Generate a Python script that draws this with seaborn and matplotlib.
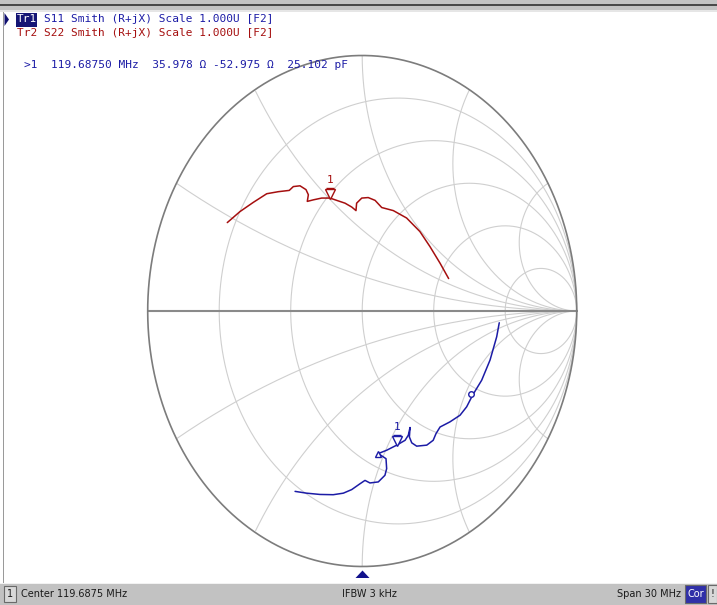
import numpy as np
import pandas as pd
import matplotlib
matplotlib.use("Agg")
import matplotlib.pyplot as plt
import matplotlib.transforms as mtransforms
from matplotlib.patches import Rectangle, Polygon
import seaborn as sns

s11_re = [0.639, 0.627, 0.596, 0.557, 0.515, 0.487, 0.456, 0.409, 0.363, 0.344,
          0.331, 0.301, 0.254, 0.231, 0.220, 0.223, 0.215, 0.200, 0.161, 0.114,
          0.075, 0.111, 0.114, 0.106, 0.075, 0.036, 0.013, -0.010, -0.049, -0.088,
          -0.135, -0.197, -0.259, -0.313]
s11_im = [-0.046, -0.101, -0.192, -0.271, -0.329, -0.375, -0.408, -0.434, -0.454, -0.480,
          -0.506, -0.525, -0.529, -0.516, -0.493, -0.456, -0.486, -0.506, -0.525, -0.545,
          -0.558, -0.578, -0.617, -0.643, -0.669, -0.673, -0.663, -0.676, -0.699, -0.713,
          -0.719, -0.718, -0.713, -0.706]

# Tr2 S22 trace
s22_re = [-0.629, -0.570, -0.508, -0.445, -0.391, -0.340, -0.321, -0.290, -0.262, -0.251,
          -0.256, -0.228, -0.189, -0.150, -0.119, -0.080, -0.049, -0.029, -0.026, -0.002,
          0.028, 0.060, 0.091, 0.145, 0.207, 0.269, 0.316, 0.363, 0.403]
s22_im = [0.346, 0.389, 0.425, 0.459, 0.467, 0.472, 0.487, 0.490, 0.475, 0.455,
          0.429, 0.435, 0.442, 0.442, 0.433, 0.422, 0.407, 0.393, 0.422, 0.442,
          0.444, 0.433, 0.405, 0.393, 0.364, 0.311, 0.252, 0.187, 0.127]

# marker 1 positions (index into each trace)
s11_mkr = 18
s22_mkr = 13

# grid: resistance circles and reactance arcs as drawn by the analyzer
r_values = [0.2, 0.5, 1, 2, 5]
x_values = [0.268, 0.577, 1, 1.732, 3.732]

header1 = "S11 Smith (R+jX) Scale 1.000U [F2]"
header2 = "Tr2 S22 Smith (R+jX) Scale 1.000U [F2]"
readout = ">1  119.68750 MHz  35.978 \u03a9 -52.975 \u03a9  25.102 pF"
center_txt = "Center 119.6875 MHz"
ifbw_txt = "IFBW 3 kHz"
span_txt = "Span 30 MHz"

BLUE = "#1c1ca6"
RED = "#a50f0f"
GRID = "#cfcfcf"

W, H = 717, 605


def fx(x):
    return x / W


def fy(y):
    return 1 - y / H


sns.set_theme(style="white")
plt.rcParams["font.family"] = ["DejaVu Sans"]

fig = plt.figure(figsize=(W / 100, H / 100), dpi=100)
fig.patch.set_facecolor("white")

# chart area in pixels
left, right, top, bottom = 147.7, 576.7, 55.5, 566.5
ax = fig.add_axes([fx(left), fy(bottom), fx(right - left), (bottom - top) / H])
ax.set_xlim(-1, 1)
ax.set_ylim(-1, 1)
ax.set_axis_off()

t = np.linspace(0, 2 * np.pi, 1441)

# constant resistance circles
for r in r_values:
    c, rad = r / (1 + r), 1 / (1 + r)
    ax.plot(c + rad * np.cos(t), rad * np.sin(t), color=GRID, lw=0.8, clip_on=False, zorder=1)

# constant reactance arcs
for xv in x_values:
    for sgn in (1, -1):
        rad = 1 / xv
        gx = 1 + rad * np.cos(t)
        gy = sgn * rad + rad * np.sin(t)
        mask = gx ** 2 + gy ** 2 > 1.0005
        gx[mask] = np.nan
        gy[mask] = np.nan
        ax.plot(gx, gy, color=GRID, lw=0.8, clip_on=False, zorder=1)

ax.plot([-1, 1], [0, 0], color="#8a8a8a", lw=1.5, clip_on=False, zorder=2)
ax.plot(np.cos(t), np.sin(t), color="#7c7c7c", lw=1.2, clip_on=False, zorder=2)

df = pd.concat([
    pd.DataFrame({"re": s11_re, "im": s11_im, "trace": "S11"}),
    pd.DataFrame({"re": s22_re, "im": s22_im, "trace": "S22"}),
])
sns.lineplot(data=df, x="re", y="im", hue="trace", units="trace", palette={"S11": BLUE, "S22": RED},
             sort=False, estimator=None, legend=False, lw=1.1, ax=ax, zorder=3)

# marker symbols
for re_, im_, k, col in [(s11_re, s11_im, s11_mkr, BLUE), (s22_re, s22_im, s22_mkr, RED)]:
    mx, my = re_[k], im_[k]
    tri = mtransforms.offset_copy(ax.transData, fig=fig, x=0, y=4.5, units="dots")
    ax.plot([mx], [my], marker="v", ms=7, mfc="white", mec=col, mew=1.0, transform=tri, zorder=4)
    stem = mtransforms.offset_copy(ax.transData, fig=fig, x=0, y=10, units="dots")
    ax.plot([mx], [my], marker="_", ms=6, mec=col, mew=1.0, transform=stem, zorder=4)
    lab = mtransforms.offset_copy(ax.transData, fig=fig, x=0, y=13, units="dots")
    ax.text(mx, my, "1", color=col, fontsize=8, ha="center", va="bottom",
            family="DejaVu Sans Mono", transform=lab, zorder=4)

# small extra symbols on the S11 trace
sm = mtransforms.offset_copy(ax.transData, fig=fig, x=-2, y=1, units="dots")
ax.plot([s11_re[4]], [s11_im[4]], marker="o", ms=4, mfc="white", mec=BLUE, mew=1, transform=sm, zorder=4)
ax.plot([s11_re[20]], [s11_im[20]], marker="^", ms=4, mfc="white", mec=BLUE, mew=1, zorder=4)

# window frame
fig.add_artist(Rectangle((0, fy(12)), 1, 12 / H, transform=fig.transFigure, color="#c4c4c4", lw=0))
fig.add_artist(Rectangle((0, fy(6)), 1, 2 / H, transform=fig.transFigure, color="#4a4a4a", lw=0))
fig.add_artist(Rectangle((0, fy(12)), 1, 2 / H, transform=fig.transFigure, color="#e6e6e6", lw=0))
fig.add_artist(Rectangle((fx(3), fy(583)), 1.5 / W, 571 / H, transform=fig.transFigure, color="#9a9a9a", lw=0))

# header
fig.add_artist(Polygon([(fx(4.5), fy(13)), (fx(4.5), fy(26)), (fx(9), fy(19.5))], closed=True,
                       transform=fig.transFigure, color="#101070", lw=0))
fig.add_artist(Rectangle((fx(15.5), fy(26.5)), 21 / W, 14 / H, transform=fig.transFigure,
                         color="#151575", lw=0))
mono = dict(family="DejaVu Sans Mono", fontsize=8, va="center", ha="left")
fig.text(fx(17), fy(19.5), "Tr1", color="white", **mono)
fig.text(fx(44), fy(19.5), header1, color=BLUE, **mono)
fig.text(fx(17), fy(33.5), header2, color=RED, **mono)
fig.text(fx(24), fy(65), readout, color=BLUE, **mono)

# stimulus marker at bottom
fig.add_artist(Polygon([(fx(362.5), fy(570.5)), (fx(355.5), fy(578)), (fx(369.5), fy(578))],
                       closed=True, transform=fig.transFigure, color="#12128c", lw=0))

# status bar
fig.add_artist(Rectangle((0, 0), 1, (H - 583) / H, transform=fig.transFigure, color="#c2c2c2", lw=0))
fig.add_artist(Rectangle((0, fy(584)), 1, 1 / H, transform=fig.transFigure, color="#f2f2f2", lw=0))
fig.add_artist(Rectangle((fx(4), fy(602)), 12 / W, 16 / H, transform=fig.transFigure,
                         facecolor="#d8d8d8", edgecolor="#6a6a6a", lw=0.8))
sb = dict(family="DejaVu Sans", fontsize=7, va="center", color="#1a1a1a")
fig.text(fx(10), fy(594), "1", ha="center", **sb)
fig.text(fx(21), fy(594), center_txt, ha="left", **sb)
fig.text(fx(369), fy(594), ifbw_txt, ha="center", **sb)
fig.text(fx(681), fy(594), span_txt, ha="right", **sb)
fig.add_artist(Rectangle((fx(685), fy(603)), 21 / W, 18 / H, transform=fig.transFigure,
                         facecolor="#3030a8", edgecolor="#6a6a6a", lw=0.8))
fig.text(fx(695.5), fy(594), "Cor", ha="center", family="DejaVu Sans", fontsize=7, va="center", color="white")
fig.add_artist(Rectangle((fx(707.5), fy(603)), 9 / W, 18 / H, transform=fig.transFigure,
                         facecolor="#d8d8d8", edgecolor="#6a6a6a", lw=0.8))
fig.text(fx(712), fy(594), "!", ha="center", **sb)

fig.savefig("out.png", dpi=100)
